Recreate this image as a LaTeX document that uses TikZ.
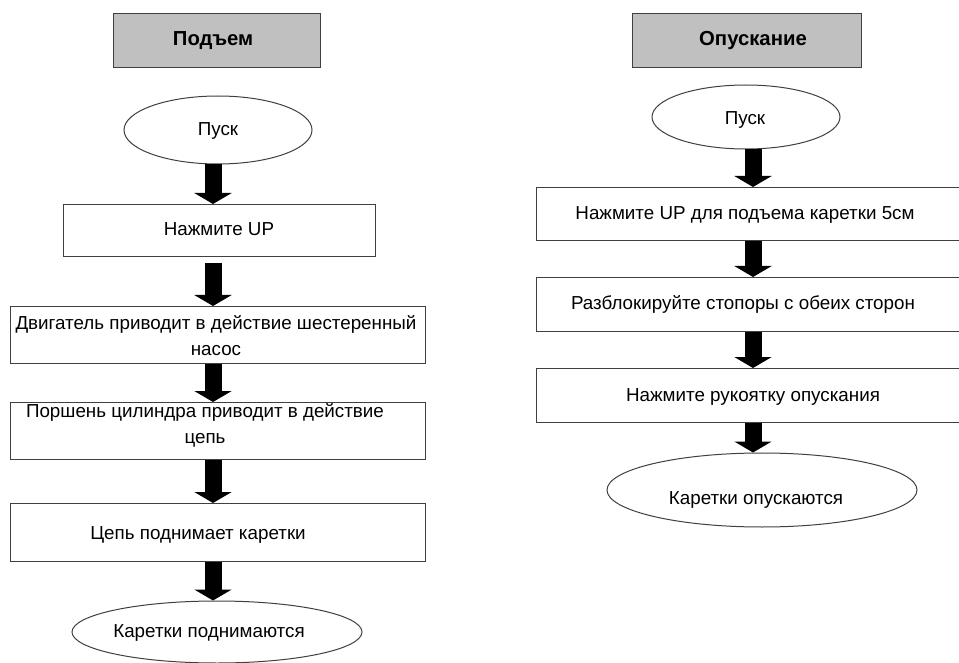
\documentclass[tikz,border=0pt]{standalone}
\usepackage{fontspec}
\setmainfont{Liberation Sans}
\usetikzlibrary{arrows.meta,shapes.geometric}
\definecolor{boxgray}{HTML}{404040}
\definecolor{headfill}{HTML}{C0C0C0}
\begin{document}
\begin{tikzpicture}[x=1pt,y=-1pt,
  box/.style={draw=boxgray, line width=1.3pt, rectangle, inner sep=0pt, anchor=north west},
  head/.style={box, fill=headfill},
  ell/.style={draw=boxgray, line width=1pt, ellipse, inner sep=0pt},
  txt/.style={font=\fontsize{18.8}{26}\selectfont, align=center, inner sep=0pt, text=black},
  htxt/.style={font=\bfseries\fontsize{20.3}{24}\selectfont, inner sep=0pt, text=black},
  barrow/.style={draw=black, line width=17pt, -{Triangle[width=37pt,length=11pt]}}]
\useasboundingbox[fill=white] (0,0) rectangle (959,663);
\coordinate (axL) at (213,0);
\coordinate (axR) at (753,0);
% Left column
\node[head, minimum width=207, minimum height=54] (h1) at (113,13) {};
\node[htxt] (h1t) at (213,41) {Подъем};
\node[ell, minimum width=188, minimum height=68] (e1) at (218,130) {};
\node[txt] (e1t) at (218,131) {Пуск};
\node[box, minimum width=312, minimum height=52] (b1) at (63,204) {};
\node[txt] (b1t) at (219,229) {Нажмите UP};
\node[box, minimum width=415, minimum height=57] (b2) at (10,306) {};
\node[txt] (b2t) at (216,336) {Двигатель приводит в действие шестеренный\\насос};
\node[box, minimum width=415, minimum height=57] (b3) at (10,402) {};
\node[txt] (b3t) at (205,425) {Поршень цилиндра приводит в действие\\цепь};
\node[box, minimum width=415, minimum height=58] (b4) at (10,503) {};
\node[txt] (b4t) at (198,535) {Цепь поднимает каретки};
\node[ell, minimum width=290, minimum height=62] (e2) at (217,632) {};
\node[txt] (e2t) at (209,633) {Каретки поднимаются};
\draw[barrow] (e1.south -| axL) -- (b1.north -| axL);
\draw[barrow, shorten <=6pt] (b1.south -| axL) -- (b2.north -| axL);
\draw[barrow] (b2.south -| axL) -- (b3.north -| axL);
\draw[barrow] (b3.south -| axL) -- (b4.north -| axL);
\draw[barrow] (b4.south -| axL) -- (e2.north -| axL);
% Right column
\node[head, minimum width=229, minimum height=54] (h2) at (632,13) {};
\node[htxt] (h2t) at (753,41) {Опускание};
\node[ell, minimum width=188, minimum height=64] (e3) at (746,117) {};
\node[txt] (e3t) at (745,120) {Пуск};
\node[box, minimum width=430, minimum height=53] (b5) at (536,187) {};
\node[txt] (b5t) at (745,215) {Нажмите UP для подъема каретки 5см};
\node[box, minimum width=430, minimum height=54] (b6) at (536,277) {};
\node[txt] (b6t) at (743,304) {Разблокируйте стопоры с обеих сторон};
\node[box, minimum width=430, minimum height=54] (b7) at (536,368) {};
\node[txt] (b7t) at (753,397) {Нажмите рукоятку опускания};
\node[ell, minimum width=310, minimum height=74] (e4) at (762,490) {};
\node[txt] (e4t) at (756,500) {Каретки опускаются};
\draw[barrow] (e3.south -| axR) -- (b5.north -| axR);
\draw[barrow] (b5.south -| axR) -- (b6.north -| axR);
\draw[barrow] (b6.south -| axR) -- (b7.north -| axR);
\draw[barrow] (b7.south -| axR) -- (e4.north -| axR);
\end{tikzpicture}
\end{document}
